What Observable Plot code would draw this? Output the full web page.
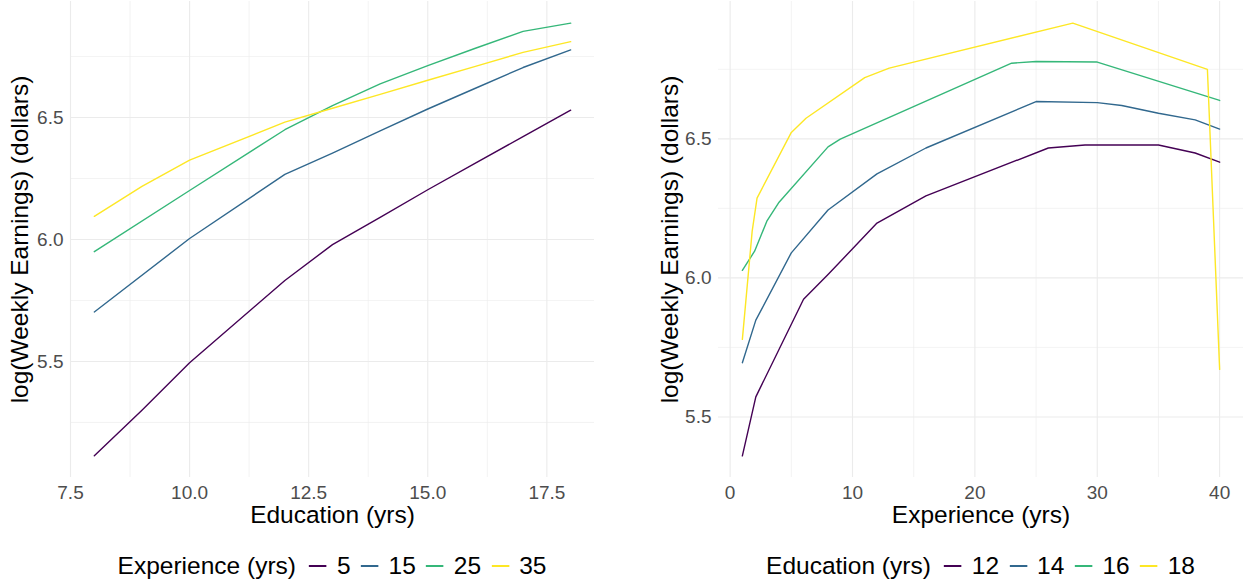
<!DOCTYPE html>
<html>
<head>
<meta charset="utf-8">
<script src="https://cdn.jsdelivr.net/npm/d3@7"></script>
<script src="https://cdn.jsdelivr.net/npm/@observablehq/plot@0.6"></script>
<style>
  html, body { margin: 0; padding: 0; background: #fff; overflow: hidden; }
  body { font-family: "Liberation Sans", Arial, sans-serif; }
  #wrap { display: flex; width: 1248px; height: 586px; }
  .panel { position: relative; width: 624px; height: 586px; }
  .panel svg { display: block; }
  .legend { position: absolute; top: 546px; height: 40px; display: flex; align-items: center;
            transform: translateX(-50%); white-space: nowrap; font-size: 24.5px; color: #000; }
  .legend .key { display: block; }
</style>
</head>
<body>
<div id="wrap"><div class="panel" id="left"></div><div class="panel" id="right"></div></div>
<script>
// ---------- Left panel: log earnings vs education, by experience ----------
const leftSeries = ["5", "15", "25", "35"];
const leftTitle = "Experience (yrs)";
const eduX_exp5  = [8, 9, 10, 12, 13, 14, 15, 16, 17, 18];
const earn_exp5  = [5.113, 5.300, 5.495, 5.832, 5.979, 6.091, 6.204, 6.313, 6.422, 6.530];
const eduX_exp15 = [8, 10, 12, 13, 14, 15, 16, 17, 18];
const earn_exp15 = [5.703, 6.004, 6.267, 6.354, 6.445, 6.535, 6.620, 6.705, 6.777];
const eduX_exp25 = [8, 10, 12, 13, 14, 15, 16, 17, 18];
const earn_exp25 = [5.950, 6.201, 6.450, 6.549, 6.638, 6.713, 6.784, 6.853, 6.887];
const eduX_exp35 = [8, 9, 10, 12, 13, 14, 15, 16, 17, 18];
const earn_exp35 = [6.095, 6.218, 6.325, 6.481, 6.538, 6.595, 6.653, 6.710, 6.767, 6.811];
const leftXTicks = [7.5, 10, 12.5, 15, 17.5];
const leftXMinor = [8.75, 11.25, 13.75, 16.25];

// ---------- Right panel: log earnings vs experience, by education ----------
const rightSeries = ["12", "14", "16", "18"];
const rightTitle = "Education (yrs)";
const expX_edu12 = [1, 2.1, 6, 8, 12, 16, 26, 29, 35, 38, 40];
const earn_edu12 = [5.360, 5.572, 5.923, 6.012, 6.197, 6.295, 6.467, 6.478, 6.478, 6.449, 6.416];
const expX_edu14 = [1, 2.1, 5, 8, 12, 16, 25, 30, 32, 35, 38, 40];
const earn_edu14 = [5.695, 5.848, 6.090, 6.244, 6.374, 6.467, 6.634, 6.630, 6.620, 6.592, 6.568, 6.535];
const expX_edu16 = [1, 2, 3, 4, 8, 9, 23, 25, 30, 40];
const earn_edu16 = [6.027, 6.096, 6.204, 6.272, 6.471, 6.499, 6.772, 6.778, 6.776, 6.638];
const expX_edu18 = [1, 1.8, 2.2, 5, 6.2, 11, 13, 28, 39, 40];
const earn_edu18 = [5.779, 6.167, 6.287, 6.523, 6.574, 6.720, 6.754, 6.916, 6.750, 5.671];
const rightXTicks = [0, 10, 20, 30, 40];
const rightXMinor = [5, 15, 25, 35];

// ---------- shared ----------
const yTicks = [5.5, 6.0, 6.5];
const yMinor = [5.25, 5.75, 6.25, 6.75];
const viridis4 = ["#440154", "#31688E", "#35B779", "#FDE725"];
const yLabel = "log(Weekly Earnings) (dollars)";

function rowsFrom(names, xs, ys) {
  const rows = [];
  names.forEach((n, i) => xs[i].forEach((x, j) => rows.push({x, y: ys[i][j], series: n})));
  return rows;
}
function expand(ext) { const p = (ext[1] - ext[0]) * 0.05; return [ext[0] - p, ext[1] + p]; }

function panel({el, rows, names, xTicks, xMinor, xFmt, xTitle, legendTitle, mL, mR, yTitleDx}) {
  const W = 624, H = 538, mT = 1, mB = 61;
  const xDom = expand(d3.extent(rows, d => d.x));
  const yDom = expand(d3.extent(rows, d => d.y));
  const inX = v => v >= xDom[0] && v <= xDom[1];
  const inY = v => v >= yDom[0] && v <= yDom[1];
  const chart = Plot.plot({
    width: W, height: H,
    marginLeft: mL, marginRight: mR, marginTop: mT, marginBottom: mB,
    style: {fontFamily: '"Liberation Sans", Arial, sans-serif', fontSize: "19px", color: "#4D4D4D", background: "#fff"},
    x: {domain: xDom},
    y: {domain: yDom},
    color: {domain: names, range: viridis4},
    marks: [
      Plot.ruleX(xMinor.filter(inX), {stroke: "#EBEBEB", strokeWidth: 0.6}),
      Plot.ruleY(yMinor.filter(inY), {stroke: "#EBEBEB", strokeWidth: 0.6}),
      Plot.ruleX(xTicks.filter(inX), {stroke: "#EBEBEB", strokeWidth: 1.1}),
      Plot.ruleY(yTicks.filter(inY), {stroke: "#EBEBEB", strokeWidth: 1.1}),
      Plot.axisX({ticks: xTicks, tickFormat: xFmt, tickSize: 0, tickPadding: 8, label: null, fontSize: 19}),
      Plot.axisY({ticks: yTicks, tickFormat: d => d.toFixed(1), tickSize: 0, tickPadding: 7, label: null, fontSize: 19}),
      Plot.line(rows, {x: "x", y: "y", z: "series", stroke: "series", strokeWidth: 1.4}),
      Plot.text([xTitle], {text: d => d, frameAnchor: "bottom", dy: 38, lineAnchor: "middle", textAnchor: "middle", fontSize: 24.5, fill: "#000"}),
      Plot.text([yLabel], {text: d => d, frameAnchor: "left", dx: yTitleDx, rotate: -90, textAnchor: "middle", lineAnchor: "middle", fontSize: 24.5, fill: "#000"})
    ]
  });
  el.appendChild(chart);

  // legend (HTML, below the SVG), centred under the panel
  const leg = document.createElement("div");
  leg.className = "legend";
  leg.style.left = (mL + (W - mL - mR) / 2) + "px";
  const t = document.createElement("span");
  t.textContent = legendTitle;
  leg.appendChild(t);
  names.forEach((n, i) => {
    const svg = d3.create("svg").attr("class", "key").attr("width", 18).attr("height", 28)
      .style("margin-left", i === 0 ? "13px" : "10px");
    svg.append("line").attr("x1", 0).attr("x2", 18).attr("y1", 14).attr("y2", 14)
      .attr("stroke", viridis4[i]).attr("stroke-width", 1.8);
    leg.appendChild(svg.node());
    const s = document.createElement("span");
    s.textContent = n;
    s.style.marginLeft = "10px";
    leg.appendChild(s);
  });
  el.appendChild(leg);
}

panel({
  el: document.getElementById("left"),
  rows: rowsFrom(leftSeries, [eduX_exp5, eduX_exp15, eduX_exp25, eduX_exp35],
                             [earn_exp5, earn_exp15, earn_exp25, earn_exp35]),
  names: leftSeries, xTicks: leftXTicks, xMinor: leftXMinor, xFmt: d => d.toFixed(1),
  xTitle: "Education (yrs)", legendTitle: leftTitle, mL: 70, mR: 30, yTitleDx: -50
});
panel({
  el: document.getElementById("right"),
  rows: rowsFrom(rightSeries, [expX_edu12, expX_edu14, expX_edu16, expX_edu18],
                              [earn_edu12, earn_edu14, earn_edu16, earn_edu18]),
  names: rightSeries, xTicks: rightXTicks, xMinor: rightXMinor, xFmt: d => String(d),
  xTitle: "Experience (yrs)", legendTitle: rightTitle, mL: 94, mR: 5, yTitleDx: -48
});
</script>
</body>
</html>
